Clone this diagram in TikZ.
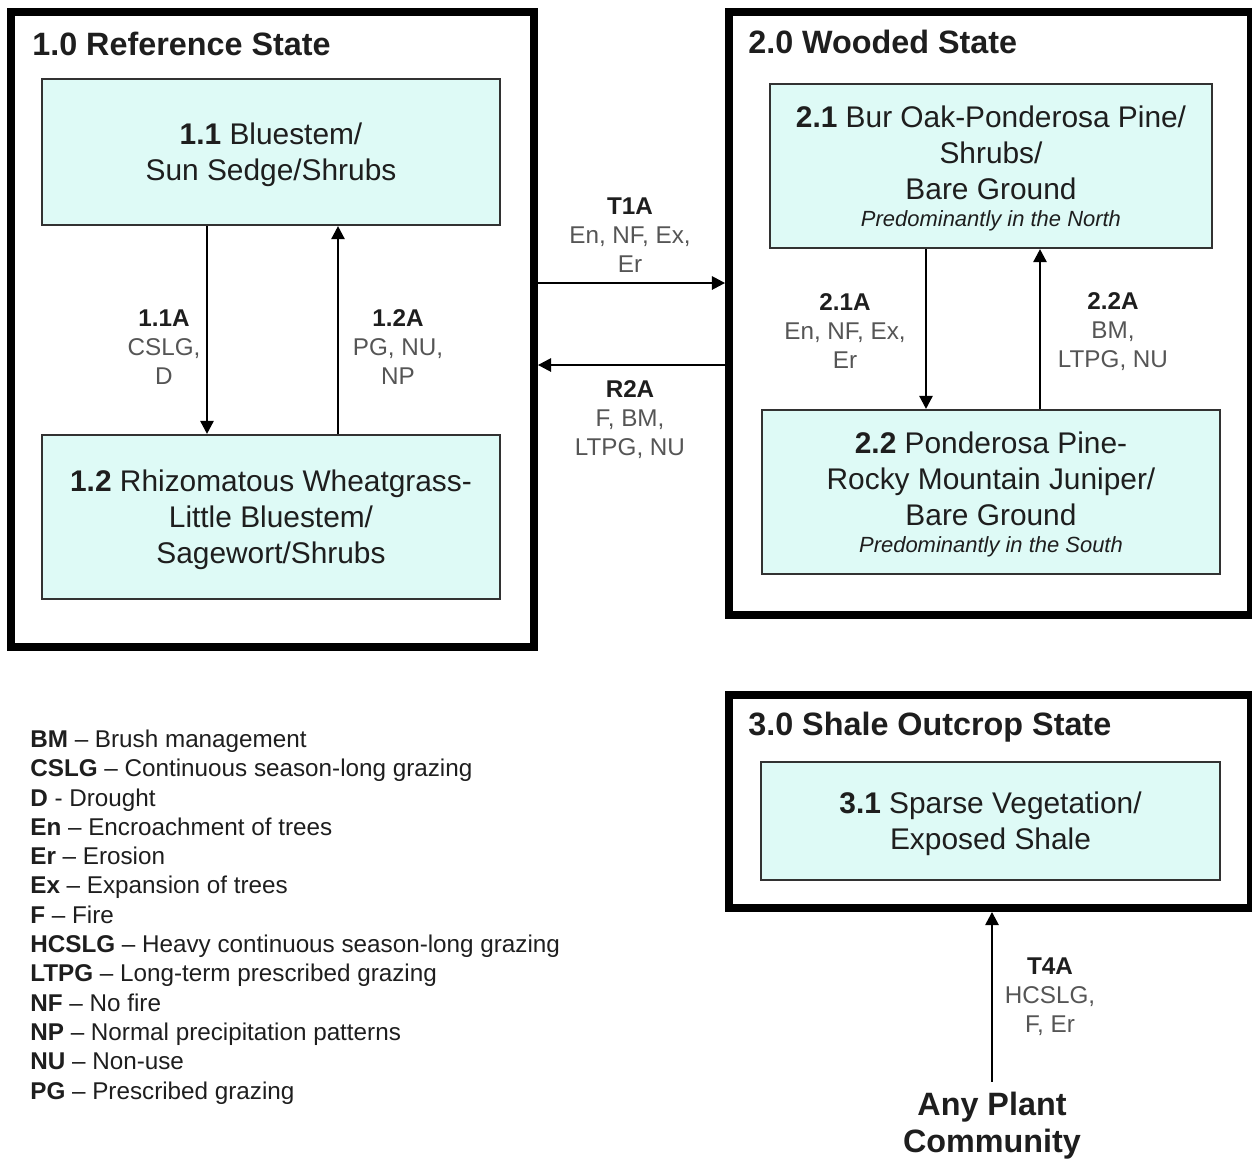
\documentclass[tikz,border=0pt]{standalone}
\usepackage{fontspec}
\setmainfont{Liberation Sans}
\usetikzlibrary{arrows.meta}
\definecolor{commfill}{RGB}{222,250,246}
\definecolor{commline}{RGB}{50,50,50}
\definecolor{inkgray}{RGB}{30,30,30}
\definecolor{labelgray}{RGB}{85,85,85}

\tikzset{
  statebox/.style={draw=black, line width=4.5pt, inner sep=0pt},
  statetitle/.style={anchor=west, inner sep=0pt, text=inkgray, font=\fontsize{18.4}{22}\selectfont\bfseries},
  commbox/.style={draw=commline, line width=1.2pt, fill=commfill, align=center, inner sep=0pt, text depth=0pt, text=inkgray, font=\fontsize{17}{20.5}\selectfont},
  translabel/.style={align=center, inner sep=0pt, text=labelgray, font=\fontsize{13.8}{16.5}\selectfont},
  trans/.style={-{Triangle[length=7.5pt,width=7.5pt]}, line width=1.4pt, draw=black}
}
\newcommand{\tcode}[1]{\textbf{\color{inkgray}#1}}
\newcommand{\subnote}[1]{{\fontsize{12.5}{16.5}\selectfont\itshape #1}}

\begin{document}
\begin{tikzpicture}[x=0.02cm, y=-0.02cm]
\useasboundingbox (0,0) rectangle (1252,1160);

% states
\node[statebox, minimum width=10.46cm, minimum height=12.71cm] (s1) at (272.5,329.75) {};
\node[statebox, minimum width=10.44cm, minimum height=12.07cm] (s2) at (990,313.25) {};
\node[statebox, minimum width=10.45cm, minimum height=4.26cm] (s3) at (989.75,801.5) {};
\node[statetitle] (s1title) at (32,44) {1.0 Reference State};
\node[statetitle] (s2title) at (748,42) {2.0 Wooded State};
\node[statetitle] (s3title) at (748,727) {3.0 Shale Outcrop State};

% plant communities
\node[commbox, minimum width=9.16cm, minimum height=2.92cm] (c11) at (271,152) {\textbf{1.1} Bluestem/\\Sun Sedge/Shrubs};
\node[commbox, minimum width=9.16cm, minimum height=3.28cm] (c12) at (271,517) {\textbf{1.2} Rhizomatous Wheatgrass-\\Little Bluestem/\\Sagewort/Shrubs};
\node[commbox, minimum width=8.84cm, minimum height=3.28cm] (c21) at (991,166) {\textbf{2.1} Bur Oak-Ponderosa Pine/\\Shrubs/\\Bare Ground\\[-5pt]\subnote{Predominantly in the North}};
\node[commbox, minimum width=9.16cm, minimum height=3.28cm] (c22) at (991,492) {\textbf{2.2} Ponderosa Pine-\\Rocky Mountain Juniper/\\Bare Ground\\[-5pt]\subnote{Predominantly in the South}};
\node[commbox, minimum width=9.18cm, minimum height=2.36cm] (c31) at (990.5,821) {\textbf{3.1} Sparse Vegetation/\\Exposed Shale};
\node[align=center, inner sep=6pt, text=inkgray, font=\fontsize{18.4}{21}\selectfont\bfseries] (any) at (992,1126) {Any Plant\\Community};

% arrow lanes
\coordinate (p11) at (207,330);
\coordinate (p12) at (338,330);
\coordinate (p21) at (926,330);
\coordinate (p22) at (1040,330);
\coordinate (pt1) at (630,283);
\coordinate (pr2) at (630,365);

\draw[trans] (c11.south -| p11) -- (c12.north -| p11);
\draw[trans] (c12.north -| p12) -- (c11.south -| p12);
\draw[trans] (c21.south -| p21) -- (c22.north -| p21);
\draw[trans] (c22.north -| p22) -- (c21.south -| p22);
\draw[trans] (s1.east |- pt1) -- (s2.west |- pt1);
\draw[trans] (s2.west |- pr2) -- (s1.east |- pr2);
\draw[trans] (any.north) -- (s3.south -| any.north);

% transition labels
\node[translabel] (l11) at (164,347) {\tcode{1.1A}\\CSLG,\\D};
\node[translabel] (l12) at (398,347) {\tcode{1.2A}\\PG, NU,\\NP};
\node[translabel] (lt1) at (630,235) {\tcode{T1A}\\En, NF, Ex,\\Er};
\node[translabel] (lr2) at (630,420) {\tcode{R2A}\\F, BM,\\LTPG, NU};
\node[translabel] (l21) at (845,331) {\tcode{2.1A}\\En, NF, Ex,\\Er};
\node[translabel] (l22) at (1113,332) {\tcode{2.2A}\\BM,\\LTPG, NU};
\node[translabel] (lt4) at (1050,997) {\tcode{T4A}\\HCSLG,\\F, Er};

% legend
\node[anchor=west, align=left, inner sep=0pt, text=inkgray, font=\fontsize{13.8}{16.68}\selectfont] (legend) at (30,917) {
\textbf{BM} -- Brush management\\
\textbf{CSLG} -- Continuous season-long grazing\\
\textbf{D} - Drought\\
\textbf{En} -- Encroachment of trees\\
\textbf{Er} -- Erosion\\
\textbf{Ex} -- Expansion of trees\\
\textbf{F} -- Fire\\
\textbf{HCSLG} -- Heavy continuous season-long grazing\\
\textbf{LTPG} -- Long-term prescribed grazing\\
\textbf{NF} -- No fire\\
\textbf{NP} -- Normal precipitation patterns\\
\textbf{NU} -- Non-use\\
\textbf{PG} -- Prescribed grazing};
\end{tikzpicture}
\end{document}
